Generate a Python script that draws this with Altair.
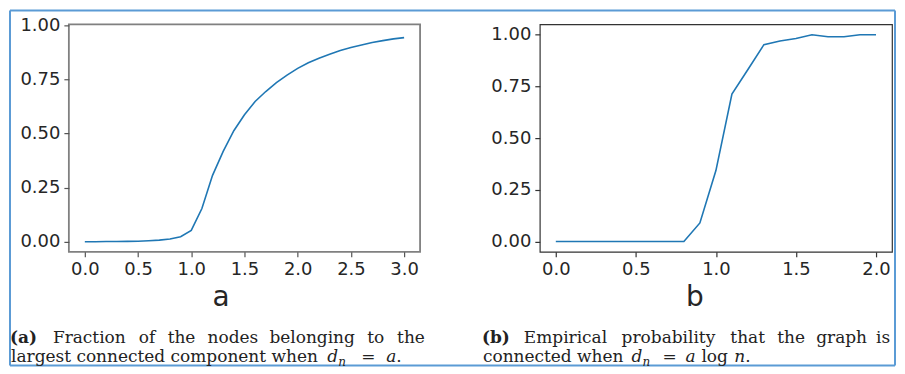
import altair as alt
import pandas as pd

# ---- data ----
a_x = [0.0, 0.1, 0.2, 0.3, 0.4, 0.5, 0.6, 0.7, 0.8, 0.9, 1.0, 1.1, 1.2, 1.3, 1.4, 1.5,
       1.6, 1.7, 1.8, 1.9, 2.0, 2.1, 2.2, 2.3, 2.4, 2.5, 2.6, 2.7, 2.8, 2.9, 3.0]
a_y = [0.0, 0.0, 0.0005, 0.001, 0.0015, 0.002, 0.004, 0.007, 0.012, 0.023, 0.052,
       0.153, 0.306, 0.417, 0.512, 0.586, 0.647, 0.693, 0.734, 0.769, 0.800, 0.826,
       0.847, 0.865, 0.882, 0.896, 0.908, 0.919, 0.928, 0.936, 0.942]

b_x = [0.0, 0.1, 0.2, 0.3, 0.4, 0.5, 0.6, 0.7, 0.8, 0.9, 1.0, 1.1, 1.2, 1.3, 1.4, 1.5,
       1.6, 1.7, 1.8, 1.9, 2.0]
b_y = [0.0, 0.0, 0.0, 0.0, 0.0, 0.0, 0.0, 0.0, 0.0, 0.09, 0.343, 0.713, 0.832, 0.952,
       0.97, 0.982, 1.0, 0.99, 0.99, 1.0, 1.0]

a_ticks_x = [0.0, 0.5, 1.0, 1.5, 2.0, 2.5, 3.0]
b_ticks_x = [0.0, 0.5, 1.0, 1.5, 2.0]
y_ticks = [0.0, 0.25, 0.5, 0.75, 1.0]

# caption tokens: (text, style, page x, line)
cap_a = [
    ("(a)", "bold", 9, 1), ("Fraction", "normal", 52, 1), ("of", "normal", 138, 1),
    ("the", "normal", 167, 1), ("nodes", "normal", 207, 1), ("belonging", "normal", 269, 1),
    ("to", "normal", 367, 1), ("the", "normal", 397, 1),
    ("largest connected component when", "normal", 10, 2),
    ("d", "italic", 327, 2), ("n", "sub", 338, 2),
    ("=", "normal", 361, 2), ("a", "italic", 386, 2), (".", "normal", 396, 2),
]
cap_b = [
    ("(b)", "bold", 482, 1), ("Empirical", "normal", 524, 1), ("probability", "normal", 622, 1),
    ("that", "normal", 731, 1), ("the", "normal", 778, 1), ("graph", "normal", 817, 1),
    ("is", "normal", 877, 1),
    ("connected when", "normal", 483, 2), ("d", "italic", 632, 2),
    ("n", "sub", 643, 2), ("=", "normal", 663, 2), ("a", "italic", 686, 2),
    ("log", "normal", 702, 2), ("n", "italic", 735, 2), (".", "normal", 746, 2),
]

BLUE = "#1f77b4"
FRAME = "#5b9bd5"
TXT = "#222222"

PLOT_TOP = 23
A_LEFT = 68
B_LEFT = 540
LINE_Y = {1: 342, 2: 361}


def caption_layers(tokens, origin_x):
    rows = []
    for t, style, x, line in tokens:
        y = LINE_Y[line] - PLOT_TOP
        if style == "sub":
            y += 4
        rows.append({"t": t, "style": style, "px": x - origin_x, "py": y})
    df = pd.DataFrame(rows)
    layers = []
    specs = {
        "normal": dict(fontWeight="normal", fontStyle="normal", fontSize=17),
        "bold": dict(fontWeight="bold", fontStyle="normal", fontSize=17),
        "italic": dict(fontWeight="normal", fontStyle="italic", fontSize=17),
        "sub": dict(fontWeight="normal", fontStyle="italic", fontSize=12),
    }
    for style, kw in specs.items():
        sub = df[df["style"] == style]
        if len(sub) == 0:
            continue
        layers.append(
            alt.Chart(sub).mark_text(
                align="left", baseline="alphabetic", font="DejaVu Serif", color=TXT, **kw
            ).encode(
                x=alt.X("px:Q", scale=None, axis=None),
                y=alt.Y("py:Q", scale=None, axis=None),
                text="t:N",
            )
        )
    return layers


LABEL = dict(labelFont="DejaVu Sans", labelFontSize=18, labelColor="#262626",
             tickSize=5, tickWidth=1.2, labelPadding=4, grid=False, domain=False)
TITLE = dict(titleFont="DejaVu Sans", titleFontSize=28, titleFontWeight="normal",
             titleColor="#262626", titleY=54, titleAlign="center",
             titleBaseline="alphabetic")

df_a = pd.DataFrame({"x": a_x, "y": a_y})
df_b = pd.DataFrame({"x": b_x, "y": b_y})

line_a = alt.Chart(df_a).mark_line(color=BLUE, strokeWidth=1.6).encode(
    x=alt.X("x:Q", scale=alt.Scale(domain=[-0.15, 3.15], nice=False, zero=False),
            axis=alt.Axis(values=a_ticks_x, format=".1f", title="a", titleX=152,
                          tickColor="#555555", **LABEL, **TITLE)),
    y=alt.Y("y:Q", scale=alt.Scale(domain=[-0.047, 1.003], nice=False, zero=False),
            axis=alt.Axis(values=y_ticks, format=".2f", title=None,
                          tickColor="#555555", **LABEL)),
)

line_b = alt.Chart(df_b).mark_line(color=BLUE, strokeWidth=1.6).encode(
    x=alt.X("x:Q", scale=alt.Scale(domain=[-0.1, 2.1], nice=False, zero=False),
            axis=alt.Axis(values=b_ticks_x, format=".1f", title="b", titleX=155,
                          tickColor="#333333", **LABEL, **TITLE)),
    y=alt.Y("y:Q", scale=alt.Scale(domain=[-0.05, 1.05], nice=False, zero=False),
            axis=alt.Axis(values=y_ticks, format=".2f", title=None,
                          tickColor="#333333", **LABEL)),
)

# outer frame (decoration), in pixels relative to the left panel's plot area
fx0, fx1, fy0, fy1 = -59, 828, -14, 342
frame_df = pd.DataFrame({
    "x1": [fx0, fx0, fx1, fx0],
    "y1": [fy0, fy0, fy0, fy1],
    "x2": [fx0, fx1, fx1, fx1],
    "y2": [fy1, fy0, fy1, fy1],
})
frame = alt.Chart(frame_df).mark_rule(color=FRAME, strokeWidth=2).encode(
    x=alt.X("x1:Q", scale=None, axis=None), x2="x2:Q",
    y=alt.Y("y1:Q", scale=None, axis=None), y2="y2:Q",
)

panel_a = alt.layer(line_a, frame, *caption_layers(cap_a, A_LEFT)).properties(
    width=352, height=228,
    view=alt.ViewBackground(stroke="#808080", strokeWidth=1.8),
)
panel_b = alt.layer(line_b, *caption_layers(cap_b, B_LEFT)).properties(
    width=353, height=228,
    view=alt.ViewBackground(stroke="#333333", strokeWidth=1.2),
)

chart = alt.hconcat(panel_a, panel_b, spacing=120, bounds="flush").properties(
    padding=0, background="white"
).configure_view(stroke="#333333")

chart.save("out.html", embed_options={"renderer": "svg", "actions": False})
